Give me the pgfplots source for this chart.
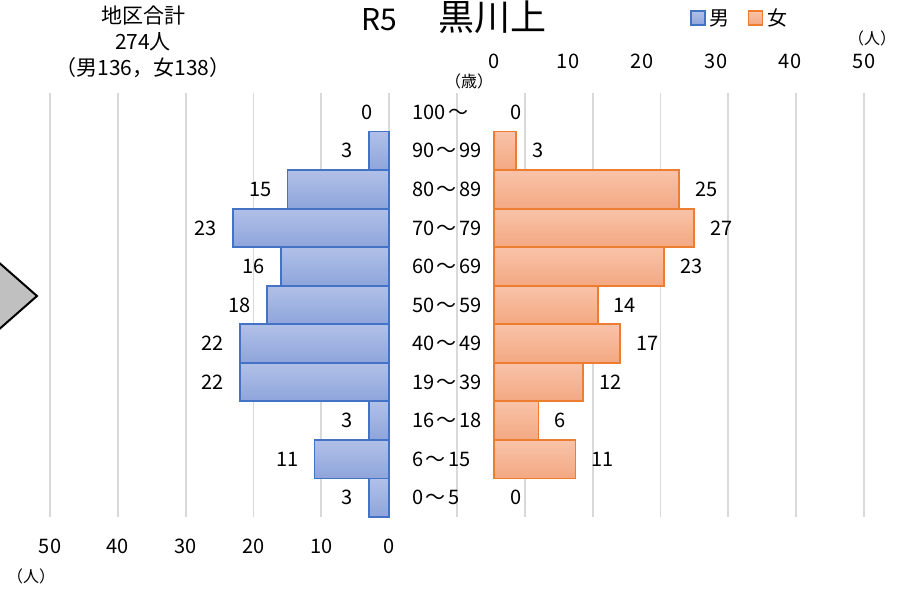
\documentclass[border=0pt]{standalone}
\usepackage{fontspec}
\setmainfont{Noto Sans CJK JP}
\usepackage{pgfplots}
\usepackage{pgfplotstable}
\pgfplotsset{compat=1.18}
\definecolor{mtop}{HTML}{B1C0E7}
\definecolor{mbot}{HTML}{8EA5DB}
\definecolor{medge}{HTML}{4472C4}
\definecolor{ftop}{HTML}{F9C3A9}
\definecolor{fbot}{HTML}{F3A882}
\definecolor{fedge}{HTML}{ED7D31}
\definecolor{gridc}{HTML}{D9D9D9}
\definecolor{shape}{HTML}{C0C0C0}

% idx: 0 = 0~5 ... 10 = 100~
\pgfplotstableread{
idx m f
0 3 0
1 11 11
2 3 6
3 22 12
4 22 17
5 18 14
6 16 23
7 23 27
8 15 25
9 3 3
10 0 0
}\pop

\newcommand{\fs}[1]{\fontsize{#1}{#1}\selectfont}
\newcommand{\w}{\kern2.5pt～\kern2.5pt}

\begin{document}
\begin{tikzpicture}
\path[use as bounding box] (0,0) rectangle (910pt,590pt);

% partial shape at the left edge
\filldraw[fill=shape, draw=black, line width=2pt] (-12pt,337pt) -- (37pt,294pt) -- (-12pt,251pt);

% male axis (with grid spanning the whole width)
\begin{axis}[
  at={(50pt,73pt)}, anchor=south west, scale only axis,
  width=814pt, height=424pt,
  xmin=-50, xmax=70, ymin=-0.5, ymax=10.5,
  axis line style={draw=none}, tick style={draw=none},
  xtick={-50,-40,...,70},
  xticklabels={50,40,30,20,10,0,,,,,,,},
  ytick=\empty,
  xmajorgrids, grid style={gridc, line width=1.8pt},
  /pgf/number format/assume math mode=true,
  xticklabel style={font=\fs{20}, inner sep=0pt, yshift=-22pt},
  clip=false,
]
\pgfplotsinvokeforeach{0,...,9}{
\addplot[xbar, bar shift=0pt, bar width=1, draw=medge, line width=1.8pt,
  top color=mtop, bottom color=mbot,
  x filter/.expression={\coordindex==#1 ? x : nan}]
  table[x expr=-\thisrow{m}, y=idx] {\pop};
}
\addplot[xbar, bar shift=0pt, bar width=1, draw=none, fill=none,
  point meta=explicit, nodes near coords,
  nodes near coords style={font=\fs{20}, inner sep=0pt, anchor=east, xshift=-16pt}]
  table[x expr=-\thisrow{m}, y=idx, meta=m] {\pop};
\end{axis}

% female axis
\begin{axis}[
  at={(494pt,73pt)}, anchor=south west, scale only axis,
  width=370pt, height=424pt,
  xmin=0, xmax=50, ymin=-0.5, ymax=10.5,
  axis line style={draw=none}, tick style={draw=none},
  xtick={0,10,...,50}, xticklabel pos=upper,
  ytick={0,...,10},
  yticklabels={0\w5,6\w15,16\w18,19\w39,40\w49,50\w59,60\w69,70\w79,80\w89,90\w99,100\w},
  yticklabel style={font=\fs{20}, anchor=west, inner sep=0pt, xshift=-82pt},
  /pgf/number format/assume math mode=true,
  xticklabel style={font=\fs{20}, inner sep=0pt, yshift=24pt},
  clip=false,
  legend style={at={(0.5216,1.177)}, anchor=west, draw=none, fill=none,
    font=\fs{20}, legend columns=2,
    /tikz/every even column/.append style={column sep=16pt}},
  legend image code/.code={\draw[#1, line width=1.6pt] (0pt,-7pt) rectangle (14pt,7pt);},
]
\addlegendimage{draw=medge, top color=mtop, bottom color=mbot}
\addlegendentry{\kern2pt 男}
\addlegendimage{draw=fedge, top color=ftop, bottom color=fbot}
\addlegendentry{\kern2pt 女}
\pgfplotsinvokeforeach{1,...,9}{
\addplot[xbar, bar shift=0pt, bar width=1, draw=fedge, line width=1.8pt,
  top color=ftop, bottom color=fbot, forget plot,
  x filter/.expression={\coordindex==#1 ? x : nan}]
  table[x=f, y=idx] {\pop};
}
\addplot[xbar, bar shift=0pt, bar width=1, draw=none, fill=none, forget plot,
  point meta=explicit, nodes near coords,
  nodes near coords style={font=\fs{20}, inner sep=0pt, anchor=west, xshift=16pt}]
  table[x=f, y=idx, meta=f] {\pop};
\end{axis}

% titles and notes
\node[anchor=base west, font=\fs{30}] at (358pt,559pt) {R5};
\node[anchor=base west, font=\fs{36}] at (435pt,559pt) {黒川上};
\node[align=center, font={\fontsize{21}{26}\selectfont}] at (143pt,548pt)
  {地区合計\\274人\\（男136，女138）};
\node[font=\fs{16}] at (469pt,509pt) {（歳）};
\node[font=\fs{16}] at (872pt,552pt) {（人）};
\node[font=\fs{16}] at (31pt,14pt) {（人）};
\end{tikzpicture}
\end{document}
